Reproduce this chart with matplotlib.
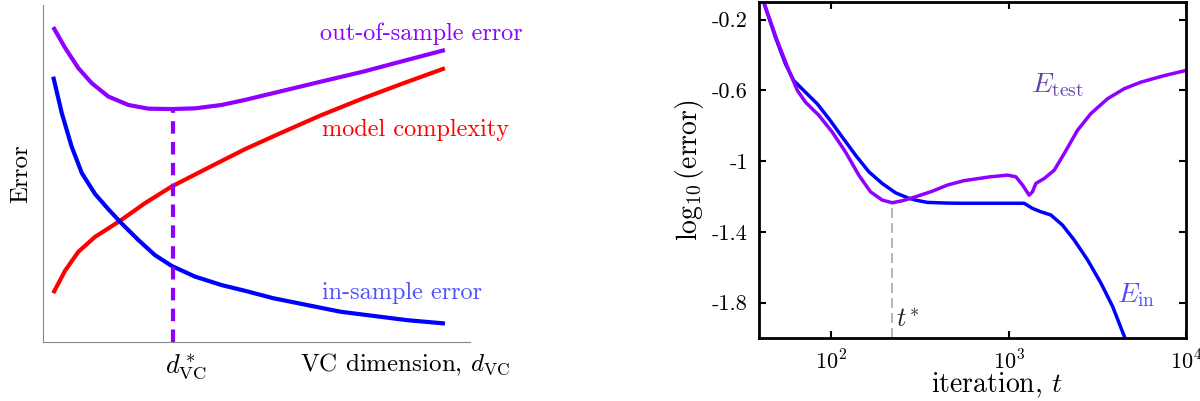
import numpy as np
import matplotlib
matplotlib.use("Agg")
import matplotlib.pyplot as plt

plt.rcParams['font.family'] = ['cmr10', 'DejaVu Serif']
plt.rcParams['mathtext.fontset'] = 'cm'
plt.rcParams['axes.unicode_minus'] = False

# -------------------------
# left panel: VC tradeoff (arbitrary units 0..10)
# -------------------------
out_x = [0.24, 0.52, 0.83, 1.14, 1.53, 2.00, 2.47, 3.01, 3.56, 4.18, 4.73, 5.55, 6.50, 7.50, 8.45, 9.41]
out_y = [9.34, 8.72, 8.12, 7.68, 7.28, 7.03, 6.92, 6.91, 6.93, 7.03, 7.18, 7.43, 7.72, 8.02, 8.34, 8.66]

cplx_x = [0.24, 0.52, 0.83, 1.22, 1.80, 2.39, 3.01, 3.64, 4.26, 4.73, 5.55, 6.50, 7.50, 8.45, 9.41]
cplx_y = [1.45, 2.12, 2.68, 3.12, 3.59, 4.12, 4.61, 5.02, 5.42, 5.72, 6.19, 6.72, 7.23, 7.68, 8.12]

in_x = [0.24, 0.44, 0.67, 0.91, 1.22, 1.53, 1.84, 2.23, 2.62, 3.01, 3.56, 4.18, 4.73, 5.39, 6.96, 8.52, 9.41]
in_y = [7.87, 6.79, 5.80, 5.01, 4.39, 3.94, 3.52, 3.03, 2.58, 2.26, 1.94, 1.69, 1.52, 1.30, 0.90, 0.65, 0.55]

d_star = 3.05
d_star_err = 6.91

# -------------------------
# right panel: early stopping
# -------------------------
ein_t = [41.5, 48.3, 55.0, 61.2, 71.3, 83.0, 96.6, 114.9, 136.7, 162.5, 193.3, 230, 273.7, 298.5,
         347, 450, 559, 791, 1222, 1362, 1517, 1727, 2009, 2338, 2785, 3311, 3855, 4487]
ein_v = [-0.102, -0.300, -0.450, -0.544, -0.610, -0.675, -0.759, -0.863, -0.966, -1.060, -1.126,
         -1.179, -1.210, -1.220, -1.233, -1.237, -1.238, -1.238, -1.238, -1.267, -1.286, -1.304,
         -1.361, -1.445, -1.558, -1.689, -1.821, -1.990]

etest_t = [41.5, 49.4, 57.5, 64.2, 71.3, 84.9, 100.9, 120, 142.6, 166, 193.3, 220, 250.6, 298.5,
           370, 451, 560, 791, 984, 1097, 1196, 1304, 1362, 1422, 1585, 1806, 2056, 2445, 2906,
           3610, 4487, 5574, 7547, 10000]
etest_v = [-0.102, -0.318, -0.487, -0.600, -0.666, -0.741, -0.835, -0.948, -1.079, -1.173, -1.220,
           -1.235, -1.224, -1.201, -1.170, -1.135, -1.110, -1.088, -1.079, -1.088, -1.135, -1.192,
           -1.173, -1.126, -1.098, -1.051, -0.957, -0.825, -0.731, -0.647, -0.590, -0.553, -0.516,
           -0.487]

t_star = 220
t_star_err = -1.235

yticks = [-0.2, -0.6, -1.0, -1.4, -1.8]
ytick_labels = ['-0.2', '-0.6', '-1', '-1.4', '-1.8']
xticks = [1e2, 1e3, 1e4]
xtick_labels = ['$10^2$', '$10^3$', '$10^4$']

purple = '#8f00ff'
blue = '#0000ff'
red = '#ff0000'

fig = plt.figure(figsize=(12, 4.01), dpi=100)

# ---- left ----
ax1 = fig.add_axes([0.0358, 0.147, 0.356, 0.841])
ax1.plot(out_x, out_y, color=purple, lw=3, solid_capstyle='butt', solid_joinstyle='round')
ax1.plot(cplx_x, cplx_y, color=red, lw=3, solid_capstyle='butt', solid_joinstyle='round')
ax1.plot(in_x, in_y, color=blue, lw=3, solid_capstyle='butt', solid_joinstyle='round')
ax1.plot([d_star, d_star], [0, d_star_err], color=purple, lw=3, ls=(0, (3, 2)))
ax1.set_xlim(0, 10)
ax1.set_ylim(0, 10)
ax1.spines['top'].set_visible(False)
ax1.spines['right'].set_visible(False)
ax1.spines['left'].set_color('#888888')
ax1.spines['bottom'].set_color('#888888')
ax1.set_xticks([])
ax1.set_yticks([])
ax1.set_ylabel('Error', fontsize=18, labelpad=8)

ax1.text(6.49, 9.14, 'out-of-sample error', color=purple, fontsize=17.5, va='center', clip_on=False)
ax1.text(6.53, 6.29, 'model complexity', color=red, fontsize=17.5, va='center', clip_on=False)
ax1.text(6.53, 1.46, 'in-sample error', color='#5050ff', fontsize=17.5, va='center', clip_on=False)
ax1.text(2.86, -0.75, r'$d^*_{\rm VC}$', fontsize=19, ha='left', va='center', clip_on=False)
ax1.text(6.02, -0.68, r'VC dimension, $d_{\rm VC}$', fontsize=18, va='center', clip_on=False)

# ---- right ----
ax2 = fig.add_axes([0.6325, 0.157, 0.3558, 0.838])
ax2.plot(ein_t, ein_v, color=blue, lw=2.5, solid_joinstyle='round')
ax2.plot(etest_t, etest_v, color=purple, lw=2.5, solid_joinstyle='round')
ax2.plot([t_star, t_star], [-2.0, t_star_err], color='#aaaaaa', lw=1.2, ls=(0, (6, 3)))
ax2.set_xscale('log')
ax2.set_xlim(39, 1e4)
ax2.set_ylim(-2.0, -0.1)
ax2.set_xticks(xticks)
ax2.set_xticklabels(xtick_labels)
ax2.xaxis.set_minor_locator(matplotlib.ticker.NullLocator())
ax2.set_yticks(yticks)
ax2.set_yticklabels(ytick_labels)
ax2.tick_params(direction='in', length=5, width=1.5, top=True, right=True, labelsize=16, pad=8)
for s in ax2.spines.values():
    s.set_linewidth(2)
ax2.set_xlabel(r'iteration, $t$', fontsize=20)
ax2.xaxis.set_label_coords(0.557, -0.098)
ax2.set_ylabel(r'$\log_{10}(\mathrm{error})$', fontsize=20, labelpad=4)

ax2.text(1331, -0.572, r'$E_{\rm test}$', color='#6644aa', fontsize=20, va='center')
ax2.text(4075, -1.755, r'$E_{\rm in}$', color='#5050ff', fontsize=20, va='center')
ax2.text(232, -1.896, r'$t^{\!*}$', color='#222222', fontsize=19, va='center')

fig.savefig('out.png', dpi=100)
